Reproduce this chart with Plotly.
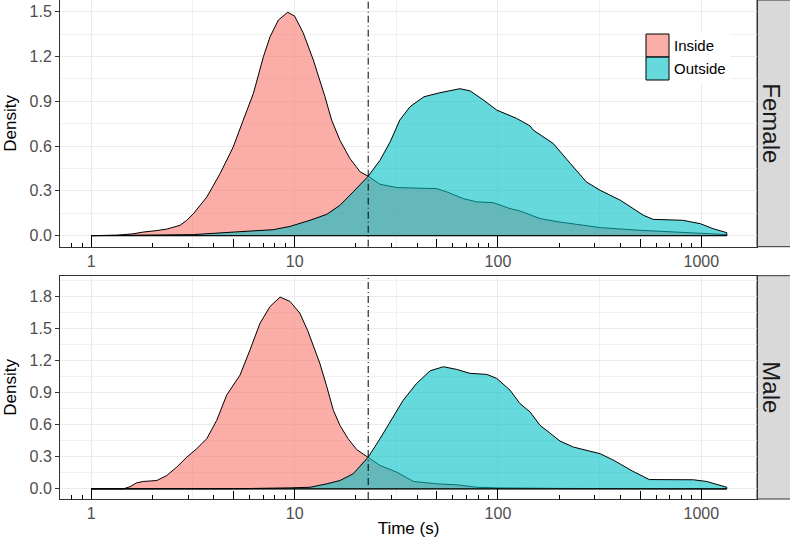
import plotly.graph_objects as go

# ---------------- data ----------------
female_inside_t = [1.0, 1.33, 1.6, 1.8, 2.1, 2.35, 2.73, 2.95, 3.18, 3.7, 4.3, 4.99, 5.59, 6.27, 7.02, 7.57, 8.32, 9.25,
                   10.0, 11.0, 12.36, 13.3, 14.1, 15.2, 16.7, 18.7, 21.0, 23.0, 26.3, 31.8, 40.0, 50.0, 56.0, 67.6,
                   78.7, 94.9, 114.6, 128.5, 143.8, 161, 202, 318, 500, 787, 1064, 1334]
female_inside_d = [0.0, 0.003, 0.012, 0.024, 0.034, 0.044, 0.069, 0.103, 0.148, 0.259, 0.416, 0.594, 0.774, 0.953, 1.198,
                   1.332, 1.444, 1.496, 1.47, 1.36, 1.176, 1.042, 0.93, 0.774, 0.639, 0.517, 0.427, 0.398, 0.344, 0.322,
                   0.318, 0.315, 0.293, 0.248, 0.226, 0.221, 0.181, 0.165, 0.140, 0.114, 0.091, 0.054, 0.036, 0.024,
                   0.013, 0.007]

female_outside_t = [1.0, 2.0, 3.18, 5.0, 7.85, 9.5, 10.6, 11.9, 14.4, 16.7, 19.4, 23.0, 26.3, 29.5, 32.9, 36.9, 43.2,
                    51.8, 65.0, 72.8, 84.9, 98.6, 123.6, 143.8, 149, 187, 227, 272, 318, 400, 520, 580, 810, 990,
                    1140, 1334]
female_outside_d = [0.0, 0.003, 0.007, 0.024, 0.040, 0.062, 0.080, 0.103, 0.143, 0.203, 0.293, 0.398, 0.505, 0.628,
                    0.774, 0.863, 0.930, 0.957, 0.984, 0.970, 0.908, 0.841, 0.785, 0.735, 0.707, 0.617, 0.483, 0.360,
                    0.304, 0.237, 0.136, 0.109, 0.103, 0.080, 0.047, 0.020]

male_inside_t = [1.0, 1.44, 1.55, 1.67, 1.8, 2.1, 2.35, 2.63, 2.95, 3.3, 3.7, 4.14, 4.63, 5.39, 6.03, 6.76, 7.57, 8.48,
                 9.49, 10.6, 11.6, 12.6, 13.3, 14.4, 15.5, 16.7, 18.3, 20.2, 23.0, 26.3, 31.8, 38.4, 50.0, 62.7, 78.7,
                 98.6, 200, 500, 1334]
male_inside_d = [0.0, 0.0, 0.02, 0.056, 0.069, 0.078, 0.125, 0.203, 0.297, 0.376, 0.470, 0.642, 0.877, 1.065, 1.300,
                 1.551, 1.707, 1.795, 1.754, 1.645, 1.48, 1.300, 1.175, 0.955, 0.736, 0.595, 0.470, 0.367, 0.297,
                 0.219, 0.156, 0.069, 0.047, 0.038, 0.015, 0.009, 0.004, 0.002, 0.001]

male_outside_t = [1.0, 5.0, 9.5, 11.9, 14.4, 16.7, 19.4, 23.0, 26.3, 29.5, 34.2, 39.8, 46.4, 53.9, 62.7, 72.8, 88.1,
                  98.6, 114.6, 128, 143.8, 161, 202, 235, 318, 372, 460, 555, 700, 916, 1064, 1334]
male_outside_d = [0.0, 0.001, 0.009, 0.015, 0.047, 0.078, 0.141, 0.297, 0.470, 0.626, 0.830, 0.987, 1.105, 1.143, 1.118,
                  1.081, 1.071, 1.034, 0.924, 0.800, 0.720, 0.595, 0.447, 0.391, 0.329, 0.266, 0.165, 0.087, 0.085,
                  0.085, 0.069, 0.015]

threshold = [23.0]
panel_labels = ["Female", "Male"]
group_labels = ["Inside", "Outside"]
x_major = [1, 10, 100, 1000]
x_major_text = ["1", "10", "100", "1000"]
x_minor_grid = [10 ** -0.5, 10 ** 0.5, 10 ** 1.5, 10 ** 2.5, 10 ** 3.5]
x_short_ticks = [0.7, 0.8, 0.9, 2, 3, 4, 6, 7, 8, 9, 20, 30, 40, 60, 70, 80, 90, 200, 300, 400, 600, 700, 800, 900, 2000]
x_mid_ticks = [0.5, 5, 50, 500]
y_top_ticks = [0.0, 0.3, 0.6, 0.9, 1.2, 1.5]
y_bot_ticks = [0.0, 0.3, 0.6, 0.9, 1.2, 1.5, 1.8]

# ---------------- styling ----------------
FONT = "Arial, Liberation Sans, sans-serif"
fill_cols = {"Inside": "rgba(248,118,109,0.6)", "Outside": "rgba(0,191,196,0.6)"}
W, H = 790, 541
px_l, px_r = 60, 757
top_px = (0, 246.7)
bot_px = (275.7, 499)


def dom(p):
    return [1 - p[1] / H, 1 - p[0] / H]


fig = go.Figure()


def add_density(t, d, name, xa, ya):
    xs = [t[0]] + list(t) + [t[-1], t[0]]
    ys = [0] + list(d) + [0, 0]
    fig.add_trace(go.Scatter(
        x=xs, y=ys, mode="lines", fill="toself", fillcolor=fill_cols[name],
        line=dict(color="black", width=1), name=name, showlegend=False,
        xaxis=xa, yaxis=ya, hoverinfo="skip"))


add_density(female_inside_t, female_inside_d, "Inside", "x", "y")
add_density(female_outside_t, female_outside_d, "Outside", "x", "y")
add_density(male_inside_t, male_inside_d, "Inside", "x2", "y2")
add_density(male_outside_t, male_outside_d, "Outside", "x2", "y2")

# dummy invisible traces so overlay tick axes are drawn
for xa, ya in (("x3", "y"), ("x4", "y2")):
    fig.add_trace(go.Scatter(x=[1], y=[0], mode="markers", marker=dict(opacity=0),
                             showlegend=False, hoverinfo="skip", xaxis=xa, yaxis=ya))

xrange_log = [-0.154, 3.274]
xd = [px_l / W, px_r / W]

base_x = dict(type="log", range=xrange_log, domain=xd, tickmode="array", tickvals=x_major,
              ticktext=x_major_text, ticks="inside", ticklen=11, tickcolor="black", tickwidth=1,
              showgrid=True, gridcolor="#EBEBEB", gridwidth=1,
              minor=dict(tickmode="array", tickvals=x_minor_grid, showgrid=True, gridcolor="#F0F0F0",
                         gridwidth=0.7, ticks=""),
              showline=True, linecolor="#333333", linewidth=1, mirror=True, automargin=False,
              tickfont=dict(family=FONT, size=16, color="#4D4D4D"), zeroline=False, fixedrange=True)

tick_x = dict(type="log", range=xrange_log, domain=xd, tickmode="array", tickvals=x_short_ticks,
              ticks="inside", ticklen=4, tickcolor="black", tickwidth=1, showticklabels=False,
              showgrid=False, zeroline=False, showline=False, automargin=False,
              minor=dict(tickmode="array", tickvals=x_mid_ticks, ticks="inside", ticklen=8,
                         tickcolor="black", tickwidth=1, showgrid=False))

base_y = dict(tickmode="array", ticks="outside", ticklen=4, tickcolor="#333333",
              showgrid=True, gridcolor="#EBEBEB", gridwidth=1,
              minor=dict(dtick=0.15, tick0=0, showgrid=True, gridcolor="#F0F0F0", gridwidth=0.7, ticks=""),
              showline=True, linecolor="#333333", linewidth=1, mirror=True, zeroline=False, automargin=False,
              tickfont=dict(family=FONT, size=16, color="#4D4D4D"),
              title=dict(text="Density", font=dict(family=FONT, size=17, color="black"), standoff=8),
              fixedrange=True)

fig.update_layout(
    width=W, height=H, margin=dict(l=0, r=0, t=0, b=0),
    paper_bgcolor="white", plot_bgcolor="white",
    xaxis=dict(base_x, anchor="y"),
    xaxis2=dict(base_x, anchor="y2",
                title=dict(text="Time (s)", font=dict(family=FONT, size=17, color="black"), standoff=0)),
    xaxis3=dict(tick_x, anchor="y", overlaying="x"),
    xaxis4=dict(tick_x, anchor="y2", overlaying="x2"),
    yaxis=dict(base_y, domain=dom(top_px), range=[-0.074, 1.578], tickvals=y_top_ticks,
               ticktext=[f"{v:.1f}" for v in y_top_ticks], anchor="x"),
    yaxis2=dict(base_y, domain=dom(bot_px), range=[-0.095, 1.995], tickvals=y_bot_ticks,
                ticktext=[f"{v:.1f}" for v in y_bot_ticks], anchor="x2"),
    showlegend=False,
)

# threshold line (dash-dot) in both panels
for xr, yref in (("x", "y domain"), ("x2", "y2 domain")):
    fig.add_shape(type="line", xref=xr, yref=yref, x0=threshold[0], x1=threshold[0], y0=0, y1=1,
                  line=dict(color="black", width=1, dash="7px,3px,1px,3px"))

# legend (drawn as in ggplot: white box, square keys)
leg_x0, leg_y0, key = 645, 34, 23
fig.add_shape(type="rect", xref="paper", yref="paper", x0=leg_x0 / W, x1=730 / W,
              y0=1 - (leg_y0 + 2 * key + 2) / H, y1=1 - (leg_y0 - 1) / H,
              fillcolor="white", line=dict(width=0), layer="above")
for i, g in enumerate(group_labels):
    y_top = leg_y0 + i * key
    fig.add_shape(type="rect", xref="paper", yref="paper", x0=(leg_x0 + 1) / W, x1=(leg_x0 + 1 + key) / W,
                  y0=1 - (y_top + key) / H, y1=1 - y_top / H,
                  fillcolor=fill_cols[g], line=dict(color="black", width=1), layer="above")
    fig.add_annotation(xref="paper", yref="paper", x=(leg_x0 + key + 4) / W, y=1 - (y_top + key / 2) / H,
                       text=g, showarrow=False, xanchor="left", yanchor="middle",
                       font=dict(family=FONT, size=15, color="black"))

# facet strips
for lab, p in zip(panel_labels, (top_px, bot_px)):
    d = dom(p)
    fig.add_shape(type="rect", xref="paper", yref="paper", x0=px_r / W, x1=1.01, y0=d[0], y1=d[1],
                  fillcolor="#D9D9D9", line=dict(color="#333333", width=1), layer="below")
    fig.add_annotation(xref="paper", yref="paper", x=(px_r + 15) / W, y=(d[0] + d[1]) / 2,
                       xanchor="center", yanchor="middle",
                       text=lab, textangle=90, showarrow=False,
                       font=dict(family=FONT, size=24, color="#1A1A1A"))

fig.write_html("out.html", config={"displayModeBar": False},
               post_script="document.body.style.margin='0';document.body.style.overflow='hidden';")
